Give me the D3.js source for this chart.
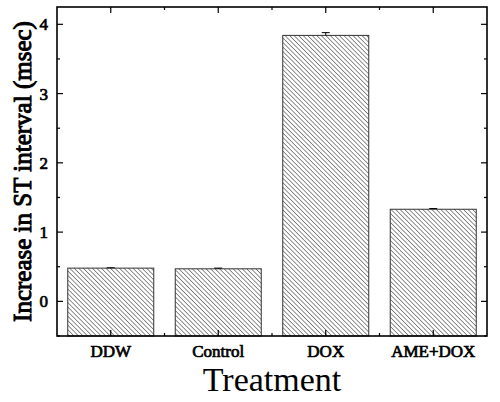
<!DOCTYPE html>
<html lang="en">
<head>
<meta charset="utf-8">
<title>ST interval</title>
<script src="https://d3js.org/d3.v7.min.js"></script>
<style>
  body { margin: 0; background: #fff; }
  svg text { font-family: "Liberation Serif", "DejaVu Serif", serif; }
  /* bold serif face isn't picked up, so thicken the regular one */
  svg text.heavy { stroke: #000; stroke-width: 0.7px; }
</style>
</head>
<body>
<div id="stage"></div>
<script>
// data
var categories = ["DDW", "Control", "DOX", "AME+DOX"];
var values = [0.48, 0.47, 3.84, 1.33];
var errors = [0.005, 0.01, 0.04, 0.01];
var yTicks = [0, 1, 2, 3, 4];

var W = 500, H = 402;
var margin = { left: 57, right: 13, top: 7, bottom: 66 };

var svg = d3.select("#stage").append("svg")
  .attr("width", W).attr("height", H);

// hatch pattern for bars, lines running top-left to bottom-right
var defs = svg.append("defs");
var pat = defs.append("pattern")
  .attr("id", "hatch")
  .attr("patternUnits", "userSpaceOnUse")
  .attr("width", 3.2).attr("height", 3.2)
  .attr("patternTransform", "rotate(-45)");
pat.append("rect").attr("width", 3.2).attr("height", 3.2).attr("fill", "#fff");
pat.append("line")
  .attr("x1", 0).attr("y1", 0).attr("x2", 0).attr("y2", 3.2)
  .attr("stroke", "#555").attr("stroke-width", 1.3);

var x = d3.scaleBand()
  .domain(categories)
  .range([margin.left, W - margin.right])
  .paddingInner(0.2)
  .paddingOuter(0.1);

var y = d3.scaleLinear()
  .domain([-0.5, 4.25])
  .range([H - margin.bottom, margin.top]);

var g = svg.append("g");

// bars run down to the bottom of the frame, as in the reference
g.selectAll("rect.bar")
  .data(values)
  .enter().append("rect")
  .attr("class", "bar")
  .attr("x", function (d, i) { return x(categories[i]); })
  .attr("width", x.bandwidth())
  .attr("y", function (d) { return y(d); })
  .attr("height", function (d) { return y(-0.5) - y(d); })
  .attr("fill", "url(#hatch)")
  .attr("stroke", "#333")
  .attr("stroke-width", 1);

// error bars (upper only)
g.selectAll("g.err")
  .data(values)
  .enter().append("g")
  .attr("class", "err")
  .each(function (d, i) {
    var cx = x(categories[i]) + x.bandwidth() / 2;
    var sel = d3.select(this);
    sel.append("line")
      .attr("x1", cx).attr("x2", cx)
      .attr("y1", y(d)).attr("y2", y(d + errors[i]))
      .attr("stroke", "#000").attr("stroke-width", 1);
    sel.append("line")
      .attr("x1", cx - 4).attr("x2", cx + 4)
      .attr("y1", y(d + errors[i])).attr("y2", y(d + errors[i]))
      .attr("stroke", "#000").attr("stroke-width", 1);
  });

var x0 = margin.left, x1 = W - margin.right;
var yb = H - margin.bottom, yt = margin.top;

// y ticks: major + minor, inward on left and right
var minor = d3.range(-0.5, 4.01, 0.5).filter(function (v) { return yTicks.indexOf(v) < 0; });
var axes = svg.append("g").attr("stroke", "#000").attr("stroke-width", 1.2);
yTicks.forEach(function (v) {
  axes.append("line").attr("x1", x0).attr("x2", x0 + 6).attr("y1", y(v)).attr("y2", y(v));
  axes.append("line").attr("x1", x1).attr("x2", x1 - 6).attr("y1", y(v)).attr("y2", y(v));
});
minor.forEach(function (v) {
  axes.append("line").attr("x1", x0).attr("x2", x0 + 3).attr("y1", y(v)).attr("y2", y(v));
  axes.append("line").attr("x1", x1).attr("x2", x1 - 3).attr("y1", y(v)).attr("y2", y(v));
});

// x ticks at band centres, minor between bands
categories.forEach(function (c, i) {
  var cx = x(c) + x.bandwidth() / 2;
  axes.append("line").attr("x1", cx).attr("x2", cx).attr("y1", yb).attr("y2", yb - 6);
  axes.append("line").attr("x1", cx).attr("x2", cx).attr("y1", yt).attr("y2", yt + 6);
  if (i < categories.length - 1) {
    var bx = x(c) + x.step() - x.step() * 0.1;
    axes.append("line").attr("x1", bx).attr("x2", bx).attr("y1", yb).attr("y2", yb - 3);
    axes.append("line").attr("x1", bx).attr("x2", bx).attr("y1", yt).attr("y2", yt + 3);
  }
});

// frame
svg.append("rect")
  .attr("x", x0).attr("y", yt)
  .attr("width", x1 - x0).attr("height", yb - yt)
  .attr("fill", "none").attr("stroke", "#000").attr("stroke-width", 1.6);

// y tick labels
svg.selectAll("text.yt")
  .data(yTicks)
  .enter().append("text")
  .attr("class", "yt heavy")
  .attr("x", x0 - 9)
  .attr("y", function (d) { return y(d); })
  .attr("dy", "0.35em")
  .attr("text-anchor", "end")
  .attr("font-size", 17)
  .text(function (d) { return d; });

// category labels
svg.selectAll("text.xt")
  .data(categories)
  .enter().append("text")
  .attr("class", "xt heavy")
  .attr("x", function (d) { return x(d) + x.bandwidth() / 2; })
  .attr("y", yb + 21)
  .attr("text-anchor", "middle")
  .attr("font-size", 17)
  .text(function (d) { return d; });

// axis titles
svg.append("text")
  .attr("x", (x0 + x1) / 2)
  .attr("y", 391)
  .attr("text-anchor", "middle")
  .attr("font-size", 34)
  .text("Treatment");

svg.append("text")
  .attr("class", "heavy")
  .style("stroke-width", "1px")
  .attr("transform", "translate(31," + ((yt + yb) / 2) + ") rotate(-90)")
  .attr("text-anchor", "middle")
  .attr("font-size", 25)
  .text("Increase in ST interval (msec)");
</script>
</body>
</html>
